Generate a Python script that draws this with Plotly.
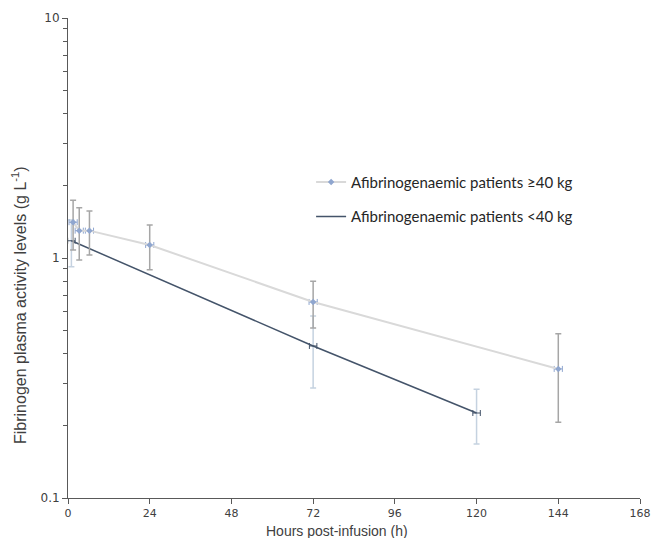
import plotly.graph_objects as go

# Data
hours_ge40 = [1.5, 3.3, 6.3, 24, 72, 144]
level_ge40 = [1.41, 1.30, 1.30, 1.133, 0.656, 0.345]
err_ge40 = [0.33, 0.32, 0.27, 0.24, 0.145, 0.138]

hours_lt40 = [1, 72, 120]
level_lt40 = [1.18, 0.43, 0.226]
err_lt40 = [0.26, 0.143, 0.058]

x_ticks = [0, 24, 48, 72, 96, 120, 144, 168]
y_ticks = [0.1, 1, 10]
y_minor = [0.2, 0.3, 0.4, 0.5, 0.6, 0.7, 0.8, 0.9, 2, 3, 4, 5, 6, 7, 8, 9]

name_ge40 = "Afibrinogenaemic patients \u226540 kg"
name_lt40 = "Afibrinogenaemic patients <40 kg"

fig = go.Figure()

fig.add_trace(go.Scatter(
    x=hours_lt40, y=level_lt40, name=name_lt40, mode="lines",
    line=dict(color="#44546a", width=1.5),
    error_y=dict(type="data", array=err_lt40, visible=True, color="#c5d2e0", thickness=1.5, width=3),
    error_x=dict(type="constant", value=1.1, visible=True, color="#44546a", thickness=1, width=3),
    legendgroup="b", legendrank=2,
))

fig.add_trace(go.Scatter(
    x=hours_ge40, y=level_ge40, name=name_ge40, mode="lines+markers",
    line=dict(color="#d9d9d9", width=2),
    marker=dict(symbol="diamond", size=5, color="#8fa6cf"),
    error_y=dict(type="data", array=err_ge40, visible=True, color="#a6a6a6", thickness=1.5, width=3),
    error_x=dict(type="constant", value=1.2, visible=True, color="#8fa6cf", thickness=1, width=3),
    legendgroup="a", legendrank=1,
))

fig.update_layout(
    width=651, height=538,
    margin=dict(l=68, r=11, t=18, b=40, autoexpand=False),
    paper_bgcolor="white", plot_bgcolor="white",
    font=dict(family="Arial", color="#404040"),
    showlegend=True,
    legend=dict(
        x=0.425, y=0.692, xanchor="left", yanchor="top",
        bgcolor="rgba(0,0,0,0)", font=dict(family="Lato", size=15, color="#262626"),
        tracegroupgap=12, traceorder="grouped", itemwidth=30,
    ),
    xaxis=dict(
        range=[0, 168], tickvals=x_ticks, ticktext=[str(v) for v in x_ticks],
        showgrid=False, zeroline=False, showline=True, linecolor="#595959", linewidth=1,
        ticks="outside", ticklen=5, tickcolor="#595959", automargin=False,
        tickfont=dict(family="DejaVu Sans", size=11, color="#404040"),
    ),
    yaxis=dict(
        type="log", range=[-1, 1], tickvals=y_ticks, ticktext=["0.1", "1", "10"],
        showgrid=False, zeroline=False, showline=True, linecolor="#595959", linewidth=1,
        ticks="outside", ticklen=5, tickcolor="#595959", automargin=False,
        tickfont=dict(family="DejaVu Sans", size=12, color="#404040"),
        minor=dict(tickvals=y_minor, ticks="outside", ticklen=4, tickcolor="#595959", showgrid=False),
    ),
    annotations=[
        dict(text="Hours post-infusion (h)", xref="paper", yref="paper",
             x=(337 - 68) / 572, y=(498 - 531) / 480, xanchor="center", yanchor="middle",
             showarrow=False, font=dict(family="Arial", size=14, color="#404040")),
        dict(text="Fibrinogen plasma activity levels (g L<sup>-1</sup>)", xref="paper", yref="paper",
             x=(19 - 68) / 572, y=(498 - 305) / 480, xanchor="center", yanchor="middle",
             textangle=-90, showarrow=False, font=dict(family="Arial", size=16, color="#404040")),
    ],
)

fig.write_html(
    "out.html",
    config={"displayModeBar": False},
    post_script="document.body.style.margin='0';document.body.style.overflow='hidden';",
)
